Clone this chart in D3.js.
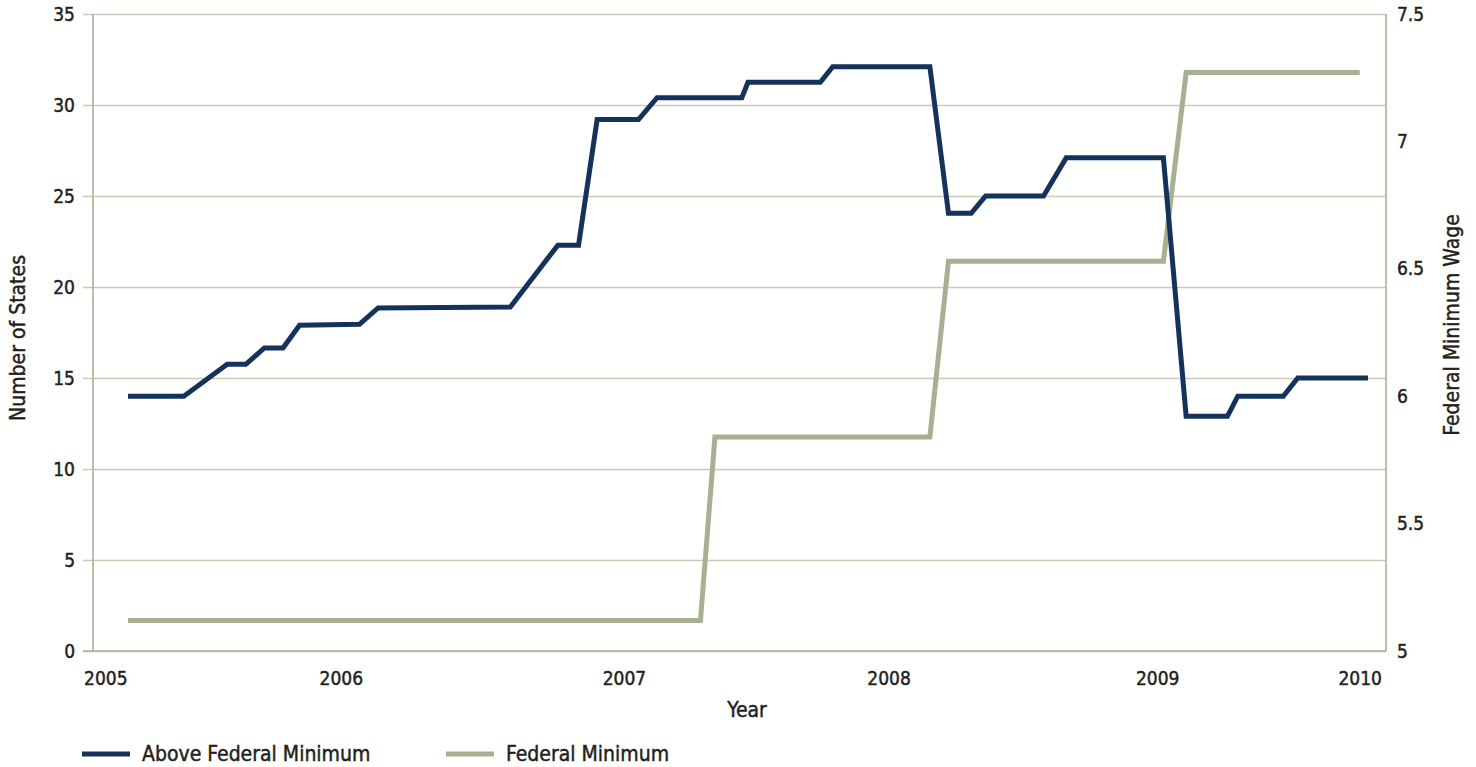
<!DOCTYPE html>
<html>
<head>
<meta charset="utf-8">
<script src="https://cdn.jsdelivr.net/npm/d3@7"></script>
<style>
  html, body { margin: 0; padding: 0; background: #ffffff; }
  svg { display: block; }
  text {
    font-family: "Liberation Sans Narrow", "Arial Narrow", "DejaVu Sans Condensed", sans-serif;
    fill: #231f20;
    stroke: #231f20;
    stroke-width: 0.45px;
  }
</style>
</head>
<body>
<svg id="chart" width="1476" height="767"></svg>
<script>
// Period positions (months from the first observation) and values per series
const aboveX = [0, 2.7, 4.8, 5.7, 6.6, 7.5, 8.3, 11.2, 12.1, 18.5, 20.8, 21.8, 22.7, 24.7, 25.6, 29.7, 30.0, 33.5, 34.1, 38.8, 39.7, 40.8, 41.5, 44.3, 45.4, 50.1, 51.2, 53.2, 53.7, 55.9, 56.6, 60];
const aboveStates = [14.0, 14.0, 15.75, 15.75, 16.65, 16.65, 17.9, 17.95, 18.85, 18.9, 22.3, 22.3, 29.2, 29.2, 30.4, 30.4, 31.25, 31.25, 32.1, 32.1, 24.05, 24.05, 25.0, 25.0, 27.1, 27.1, 12.9, 12.9, 14.0, 14.0, 15.0, 15.0];

const federalX = [0, 27.7, 28.4, 38.8, 39.7, 50.1, 51.2, 59.6];
const federalWage = [5.12, 5.12, 5.84, 5.84, 6.53, 6.53, 7.27, 7.27];

// Category labels along the year axis and where they sit
const yearLabels = ["2005", "2006", "2007", "2008", "2009", "2010"];
const yearPos = [-1.1, 10.3, 24.0, 36.8, 49.8, 59.6];

const leftTicks = [0, 5, 10, 15, 20, 25, 30, 35];
const rightTicks = [5, 5.5, 6, 6.5, 7, 7.5];

const seriesNames = ["Above Federal Minimum", "Federal Minimum"];
const seriesColors = ["#15325c", "#a6b193"];

const svg = d3.select("#chart");

const plot = { left: 93, right: 1386, top: 14, bottom: 651 };

const x = d3.scaleLinear().domain([0, 60]).range([128, 1368]);
const yL = d3.scaleLinear().domain([0, 35]).range([plot.bottom, plot.top]);
const yR = d3.scaleLinear().domain([5, 7.5]).range([plot.bottom, plot.top]);

const gridColor = "#c9ccb7";
const axisColor = "#aab096";

// Left axis with horizontal gridlines
const gLeft = svg.append("g")
  .attr("transform", `translate(${plot.left},0)`)
  .call(d3.axisLeft(yL)
    .tickValues(leftTicks)
    .tickSize(-(plot.right - plot.left))
    .tickSizeOuter(0)
    .tickPadding(18)
    .tickFormat(d3.format("d")));
gLeft.select(".domain").remove();
gLeft.selectAll(".tick line")
  .attr("x1", -10)
  .attr("stroke", gridColor)
  .attr("stroke-width", 1.3);
gLeft.selectAll(".tick text")
  .attr("font-size", 19)
  .style("font-family", null);

// Right axis for the wage
const gRight = svg.append("g")
  .attr("transform", `translate(${plot.right},0)`)
  .call(d3.axisRight(yR)
    .tickValues(rightTicks)
    .tickSize(0)
    .tickSizeOuter(0)
    .tickPadding(11)
    .tickFormat(d => String(d)));
gRight.select(".domain").remove();
gRight.selectAll(".tick text")
  .attr("font-size", 19)
  .style("font-family", null);

// Bottom axis with year labels
const gBottom = svg.append("g")
  .attr("transform", `translate(0,${plot.bottom})`)
  .call(d3.axisBottom(x)
    .tickValues(yearPos)
    .tickSize(0)
    .tickSizeOuter(0)
    .tickPadding(21)
    .tickFormat((d, i) => yearLabels[i]));
gBottom.select(".domain").remove();
gBottom.selectAll(".tick text")
  .attr("font-size", 19)
  .style("font-family", null);

// Axis tick groups carry their own fill; keep text styling from the stylesheet
svg.selectAll(".tick text").attr("fill", null);

// Plot frame lines
svg.append("line")
  .attr("x1", plot.left - 10).attr("x2", plot.right)
  .attr("y1", plot.bottom).attr("y2", plot.bottom)
  .attr("stroke", axisColor).attr("stroke-width", 1.6);
svg.append("line")
  .attr("x1", plot.left).attr("x2", plot.left)
  .attr("y1", plot.top).attr("y2", plot.bottom)
  .attr("stroke", axisColor).attr("stroke-width", 1.6);
svg.append("line")
  .attr("x1", plot.right).attr("x2", plot.right)
  .attr("y1", plot.top).attr("y2", plot.bottom)
  .attr("stroke", axisColor).attr("stroke-width", 1.6);

// Series lines
const lineLeft = d3.line().x(d => x(d[0])).y(d => yL(d[1]));
const lineRight = d3.line().x(d => x(d[0])).y(d => yR(d[1]));

svg.append("path")
  .datum(federalX.map((v, i) => [v, federalWage[i]]))
  .attr("d", lineRight)
  .attr("fill", "none")
  .attr("stroke", seriesColors[1])
  .attr("stroke-width", 5)
  .attr("stroke-linejoin", "miter");

svg.append("path")
  .datum(aboveX.map((v, i) => [v, aboveStates[i]]))
  .attr("d", lineLeft)
  .attr("fill", "none")
  .attr("stroke", seriesColors[0])
  .attr("stroke-width", 5)
  .attr("stroke-linejoin", "miter");

// Axis titles
svg.append("text")
  .attr("transform", "translate(25,338) rotate(-90)")
  .attr("text-anchor", "middle")
  .attr("font-size", 21)
  .text("Number of States");

svg.append("text")
  .attr("transform", "translate(1459,325) rotate(-90)")
  .attr("text-anchor", "middle")
  .attr("font-size", 21)
  .text("Federal Minimum Wage");

svg.append("text")
  .attr("x", 747).attr("y", 717)
  .attr("text-anchor", "middle")
  .attr("font-size", 21)
  .text("Year");

// Legend
const legendX = [82, 446];
const legend = svg.append("g");
seriesNames.forEach((name, i) => {
  legend.append("line")
    .attr("x1", legendX[i]).attr("x2", legendX[i] + 48)
    .attr("y1", 754).attr("y2", 754)
    .attr("stroke", seriesColors[i])
    .attr("stroke-width", 5);
  legend.append("text")
    .attr("x", legendX[i] + 60).attr("y", 761)
    .attr("font-size", 21)
    .text(name);
});
</script>
</body>
</html>
